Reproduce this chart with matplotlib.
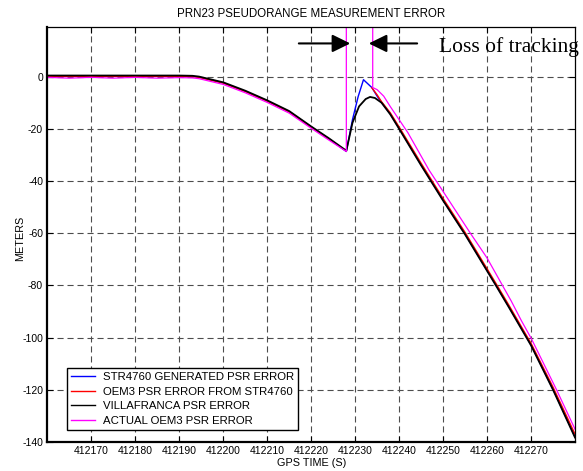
import numpy as np
import matplotlib
matplotlib.use('Agg')
import matplotlib.pyplot as plt

# PRN23 pseudorange error
# time in GPS seconds, error in metres

black_t = [412160, 412190, 412193, 412194.5, 412196, 412197.5, 412200, 412205, 412210, 412215, 412220, 412224, 412228,
           412229.4, 412230.9, 412232.4, 412233.4, 412234.5, 412236, 412238, 412240, 412245, 412250,
           412255, 412262, 412265, 412270, 412275, 412280]
black_v = [0.4, 0.4, 0.3, 0.0, -0.6, -1.2, -2.2, -5.4, -9.1, -13.2, -19.1, -23.6, -28.4,
           -17.7, -11.4, -8.6, -7.8, -8.2, -10.0, -14.5, -20.0, -34.0, -47.5,
           -60.5, -80.0, -88.5, -103.0, -120.0, -138.3]

blue_t = [412160, 412190, 412193, 412194.5, 412196, 412197.5, 412200, 412205, 412210, 412215, 412220, 412224, 412228,
          412229.4, 412230.7, 412231.9, 412233.8, 412235, 412236, 412238, 412240, 412245, 412250,
          412255, 412262, 412265, 412270, 412275, 412280]
blue_v = [0.2, 0.2, 0.1, -0.2, -0.8, -1.4, -2.4, -5.6, -9.3, -13.4, -19.3, -23.8, -28.7,
          -16.5, -7.6, -1.2, -4.2, -7.5, -9.9, -14.3, -19.8, -33.8, -47.3,
          -60.3, -79.8, -88.3, -102.8, -119.8, -138.0]

# red has no data while tracking is lost
red_t = [412160, 412190, 412193, 412194.5, 412196, 412197.5, 412200, 412205, 412210, 412215, 412220, 412224, 412228,
         412228.01, 412233.79,
         412233.8, 412235, 412236, 412238, 412240, 412245, 412250,
         412255, 412262, 412265, 412270, 412275, 412280]
red_v = [0.1, 0.1, 0.0, -0.3, -0.9, -1.5, -2.5, -5.7, -9.4, -13.5, -19.4, -23.9, -28.5,
         np.nan, np.nan,
         -4.3, -7.0, -9.6, -13.9, -19.3, -33.2, -46.7,
         -59.7, -79.2, -87.7, -102.2, -119.0, -137.0]

# actual OEM3: jumps off the top of the plot during the outage
mag_t = [412160, 412165, 412170, 412175, 412180, 412185, 412190, 412193, 412194.5, 412196, 412197.5, 412200, 412205,
         412210, 412215, 412220, 412224, 412228, 412228, 412234, 412234,
         412235, 412236.5, 412238, 412240, 412242, 412246.8, 412250, 412256.2,
         412260, 412263.5, 412265.5, 412267.8, 412270.1, 412275.8, 412280]
mag_v = [-0.3, -0.6, -0.3, -0.6, -0.3, -0.6, -0.4, -0.5, -0.8, -1.4, -2.0, -3.0, -6.2,
         -9.9, -14.0, -19.8, -24.3, -28.7, 60.0, 60.0, -4.2,
         -5.0, -7.5, -11.5, -16.5, -21.5, -35.8, -44.0, -60.0,
         -69.5, -80.0, -86.0, -93.5, -100.5, -120.0, -135.1]

xticks = [412170, 412180, 412190, 412200, 412210, 412220, 412230, 412240, 412250, 412260, 412270]
yticks = [0, -20, -40, -60, -80, -100, -120, -140]

plt.rcParams['font.family'] = ['Liberation Sans', 'DejaVu Sans']

fig = plt.figure(figsize=(5.83, 4.71), dpi=100)
ax = fig.add_axes([0.0811, 0.0616, 0.9052, 0.8811])

ax.plot(blue_t, blue_v, color='#0000ff', lw=1.0, label='STR4760 GENERATED PSR ERROR')
ax.plot(red_t, red_v, color='#ff0000', lw=1.0, label='OEM3 PSR ERROR FROM STR4760')
ax.plot(black_t, black_v, color='black', lw=1.3, label='VILLAFRANCA PSR ERROR')
ax.plot(mag_t, mag_v, color='#ff00ff', lw=0.9, label='ACTUAL OEM3 PSR ERROR')

ax.set_xlim(412160, 412280)
ax.set_ylim(-140, 19)
ax.set_xticks(xticks)
ax.set_xticklabels([str(t) for t in xticks], fontsize=7.5)
ax.set_yticks(yticks)
ax.set_yticklabels([str(t) for t in yticks], fontsize=7.5)
ax.tick_params(direction='in', length=4, top=True, right=True, pad=3)

ax.grid(True, color='0.3', lw=0.8, linestyle=(0, (5.5, 3.5)))

for side in ['left', 'bottom']:
	ax.spines[side].set_linewidth(1.6)
for side in ['top', 'right']:
	ax.spines[side].set_linewidth(0.9)

ax.set_title('PRN23 PSEUDORANGE MEASUREMENT ERROR', fontsize=8.3, pad=7)
ax.set_xlabel('GPS TIME (S)', fontsize=7.8, labelpad=1)
ax.set_ylabel('METERS', fontsize=7.8)
ax.yaxis.set_label_coords(-0.042, 0.49)

#两个箭头指向失锁区间
ax.annotate('', xy=(412228.9, 12.7), xytext=(412217.2, 12.7),
			arrowprops=dict(arrowstyle='-|>,head_length=0.55,head_width=0.27', mutation_scale=20,
							lw=1.5, color='black', shrinkA=0, shrinkB=0))
ax.annotate('', xy=(412233.1, 12.7), xytext=(412244.1, 12.7),
			arrowprops=dict(arrowstyle='-|>,head_length=0.55,head_width=0.27', mutation_scale=20,
							lw=1.5, color='black', shrinkA=0, shrinkB=0))
ax.text(412249, 9.5, 'Loss of tracking', fontsize=15.5, family='Liberation Serif',
		va='baseline', ha='left', clip_on=False)

leg = ax.legend(loc='lower left', bbox_to_anchor=(0.038, 0.029), frameon=True,
				fancybox=False, edgecolor='black', framealpha=1, handlelength=2.1,
				labelspacing=0.4, borderpad=0.35, handletextpad=0.65, borderaxespad=0,
				prop={'family': 'Liberation Sans', 'size': 8.2})
leg.get_frame().set_linewidth(1.0)
for line in leg.get_lines():
	line.set_linewidth(1.0)

fig.savefig('out.png', dpi=100)
